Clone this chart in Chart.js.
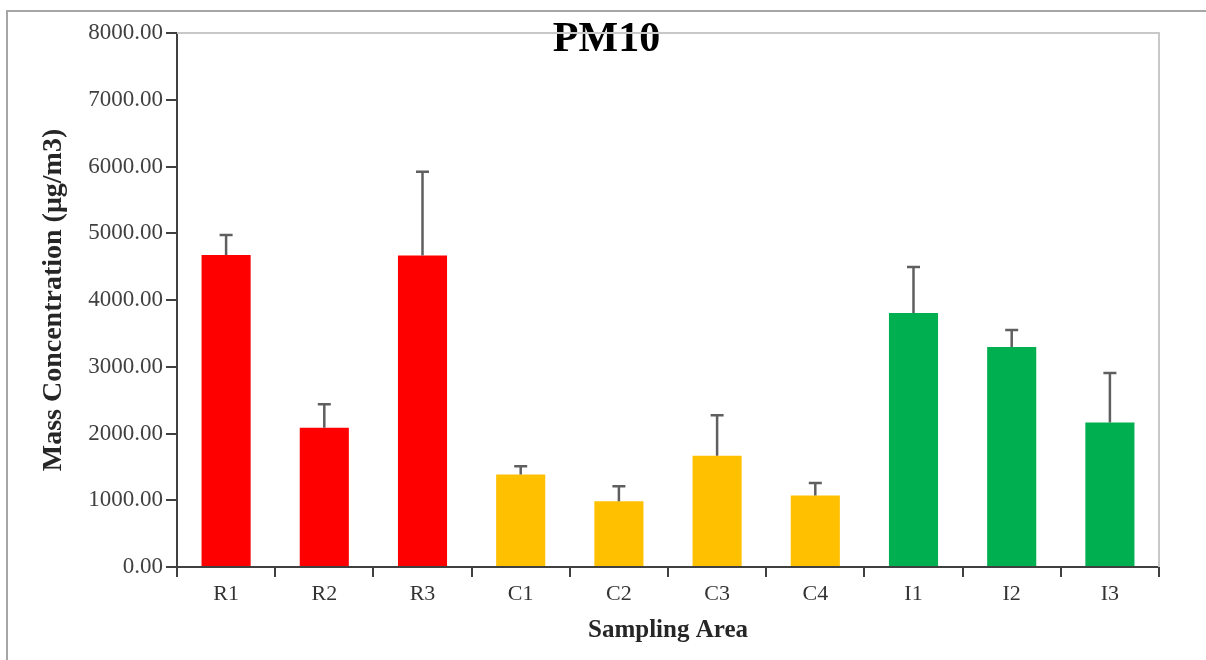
<!DOCTYPE html>
<html>
<head>
<meta charset="utf-8">
<script src="https://cdn.jsdelivr.net/npm/chart.js@4/dist/chart.umd.min.js"></script>
<style>
  html, body { margin: 0; padding: 0; background: #fff; }
  #wrap { position: relative; width: 1206px; height: 660px; overflow: hidden; }
  #frame { position: absolute; left: 6px; top: 10px; width: 1300px; height: 800px;
           border-left: 2px solid #a6a6a6; border-top: 2px solid #a6a6a6; pointer-events: none; }
  canvas { position: absolute; left: 0; top: 0; }
</style>
</head>
<body>
<div id="wrap">
  <canvas id="chart" width="1206" height="660"></canvas>
  <div id="frame"></div>
</div>
<script>
// sampling sites and PM10 values
const sites = ['R1', 'R2', 'R3', 'C1', 'C2', 'C3', 'C4', 'I1', 'I2', 'I3'];
const meanConc = [4675, 2085, 4665, 1385, 985, 1665, 1070, 3805, 3295, 2165];
const stdDev = [300, 355, 1255, 125, 225, 610, 190, 690, 255, 740];
const barColors = ['#ff0000', '#ff0000', '#ff0000', '#ffc000', '#ffc000', '#ffc000', '#ffc000', '#00b050', '#00b050', '#00b050'];

const serif = "'Liberation Serif', 'Times New Roman', serif";
const axisColor = '#404040';

// upper error bars with a cap
const errorBars = {
  id: 'errorBars',
  afterDatasetsDraw(chart) {
    const ctx = chart.ctx;
    const yScale = chart.scales.y;
    const meta = chart.getDatasetMeta(0);
    ctx.save();
    ctx.strokeStyle = '#5f5f5f';
    ctx.lineWidth = 2.5;
    meta.data.forEach((bar, i) => {
      const yTop = yScale.getPixelForValue(meanConc[i] + stdDev[i]);
      ctx.beginPath();
      ctx.moveTo(bar.x, bar.y);
      ctx.lineTo(bar.x, yTop);
      ctx.moveTo(bar.x - 6.5, yTop);
      ctx.lineTo(bar.x + 6.5, yTop);
      ctx.stroke();
    });
    ctx.restore();
  }
};

// light top and right edges of the plot area
const plotFrame = {
  id: 'plotFrame',
  beforeDatasetsDraw(chart) {
    const { ctx, chartArea: a } = chart;
    ctx.save();
    ctx.strokeStyle = '#c8c8c8';
    ctx.lineWidth = 2;
    ctx.beginPath();
    ctx.moveTo(a.left, a.top);
    ctx.lineTo(a.right, a.top);
    ctx.lineTo(a.right, a.bottom);
    ctx.stroke();
    ctx.restore();
  }
};

new Chart(document.getElementById('chart'), {
  type: 'bar',
  data: {
    labels: sites,
    datasets: [{
      data: meanConc,
      backgroundColor: barColors,
      borderWidth: 0,
      barPercentage: 0.5,
      categoryPercentage: 1.0
    }]
  },
  options: {
    responsive: false,
    animation: false,
    layout: { padding: { left: 54, right: 47, top: 0, bottom: 0 } },
    plugins: {
      legend: { display: false },
      tooltip: { enabled: false },
      title: {
        display: true,
        text: 'PM10',
        color: '#000',
        font: { family: serif, size: 42, weight: 'bold', lineHeight: 1.0 },
        padding: { top: 19, bottom: -28 }
      }
    },
    scales: {
      x: {
        afterFit: s => { s.height = 93; },
        border: { color: axisColor, width: 2 },
        grid: { display: true, drawOnChartArea: false, drawTicks: true, tickLength: 10, color: axisColor, lineWidth: 2, offset: true },
        ticks: { color: '#333', font: { family: serif, size: 22 }, padding: 4 },
        title: {
          display: true,
          text: 'Sampling Area',
          color: '#262626',
          font: { family: serif, size: 25, weight: 'bold', lineHeight: 1.0 },
          padding: { top: 0, bottom: 17 }
        }
      },
      y: {
        min: 0,
        max: 8000,
        afterFit: s => { s.width = 123; },
        border: { color: axisColor, width: 2 },
        grid: { display: true, drawOnChartArea: false, drawTicks: true, tickLength: 11, color: axisColor, lineWidth: 2 },
        ticks: {
          stepSize: 1000,
          color: '#404040',
          font: { family: serif, size: 23 },
          padding: 3,
          callback: v => v.toFixed(2)
        },
        title: {
          display: true,
          text: 'Mass Concentration (μg/m3)',
          color: '#262626',
          font: { family: serif, size: 28, weight: 'bold', lineHeight: 1.0 },
          padding: { top: -14, bottom: 0 }
        }
      }
    }
  },
  plugins: [plotFrame, errorBars]
});
</script>
</body>
</html>
